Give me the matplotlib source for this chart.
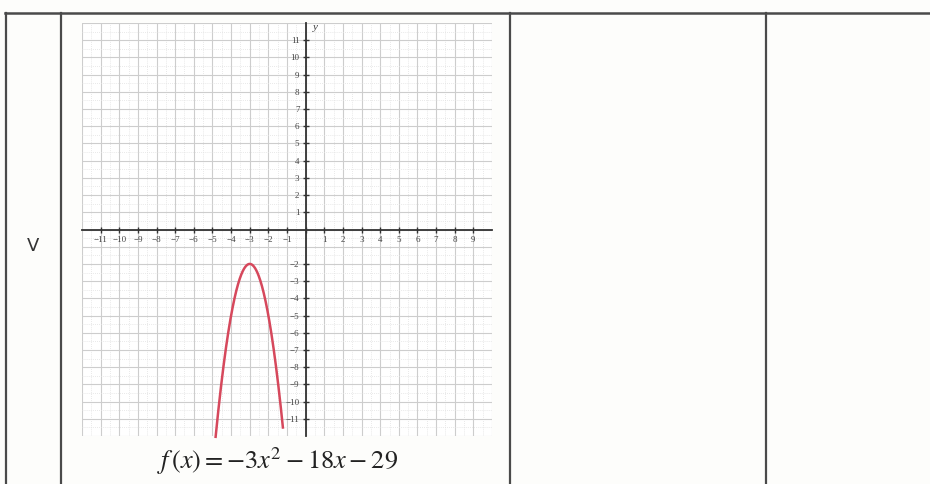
import numpy as np
import matplotlib.pyplot as plt
from matplotlib.lines import Line2D

# quadratic f(x) = a x^2 + b x + c
a, b, c = -3, -18, -29
x_start, x_end = -4.83, -1.22
x_lim = [-12, 10]
y_lim = [-12, 12]
x_tick_labels = list(range(-11, 10))
y_tick_labels = [v for v in range(-11, 12) if v not in (0, -1)]
row_label = "V"
formula = r'$f\,(x) = -3x^2 - 18x - 29$'

plt.rcParams['mathtext.fontset'] = 'stix'
plt.rcParams['font.family'] = ['Liberation Serif', 'DejaVu Serif']

fig = plt.figure(figsize=(9.3, 4.84), dpi=100)
fig.patch.set_facecolor('#fdfdfb')

# table lines
line_col = '#4a4a4a'
fig.add_artist(Line2D([5/930, 1], [1-13/484, 1-13/484], color=line_col, lw=1.8))
for px in [6, 61, 510, 766]:
    fig.add_artist(Line2D([px/930, px/930], [0, 1-13/484], color=line_col, lw=1.6))

fig.text(33/930, 1-246/484, row_label, ha='center', va='center', fontsize=13,
         family='DejaVu Sans', color='#333333')

ax = fig.add_axes([82/930, 1-436/484, 410/930, 413/484])
ax.set_facecolor('white')
ax.set_xlim(x_lim)
ax.set_ylim(y_lim)

# grid
for v in np.arange(x_lim[0], x_lim[1]+0.1, 1):
    ax.axvline(v, color='#cdcdcd', lw=0.8, zorder=0)
for v in np.arange(x_lim[0]+0.5, x_lim[1], 1):
    ax.axvline(v, color='#e2e2e2', lw=0.6, ls=(0, (1, 1.5)), zorder=0)
for v in np.arange(y_lim[0], y_lim[1]+0.1, 1):
    ax.axhline(v, color='#cdcdcd', lw=0.8, zorder=0)
for v in np.arange(y_lim[0]+0.5, y_lim[1], 1):
    ax.axhline(v, color='#e2e2e2', lw=0.6, ls=(0, (1, 1.5)), zorder=0)

for s in ['top', 'right']:
    ax.spines[s].set_visible(False)
ax.spines['left'].set_position(('data', 0))
ax.spines['bottom'].set_position(('data', 0))
ax.spines['left'].set_color('#333333')
ax.spines['bottom'].set_color('#333333')
ax.spines['left'].set_linewidth(1.3)
ax.spines['bottom'].set_linewidth(1.3)
ax.spines['left'].set_zorder(3)
ax.spines['bottom'].set_zorder(3)

ax.set_xticks(x_tick_labels)
ax.set_xticklabels([f'\u2212{-v}' if v < 0 else str(v) for v in x_tick_labels])
ax.set_yticks(y_tick_labels)
ax.set_yticklabels([f'\u2212{-v}' if v < 0 else str(v) for v in y_tick_labels])
ax.tick_params(axis='both', direction='inout', length=5, width=1, color='#333333',
               labelsize=6.5, labelcolor='#444444', pad=2)
for lbl in ax.get_xticklabels():
    if lbl.get_text() == '0':
        lbl.set_visible(False)

ax.text(0.4, 11.6, 'y', fontsize=8, style='italic', color='#444444')

xs = np.linspace(x_start, x_end, 300)
ys = a * xs**2 + b * xs + c
ax.plot(xs, ys, color='#d6485c', lw=1.8, zorder=4, clip_on=False)

fig.text(278/930, 1-461/484, formula, ha='center', va='center', fontsize=19, color='#222222')

fig.savefig('out.png', dpi=100, facecolor=fig.get_facecolor())
